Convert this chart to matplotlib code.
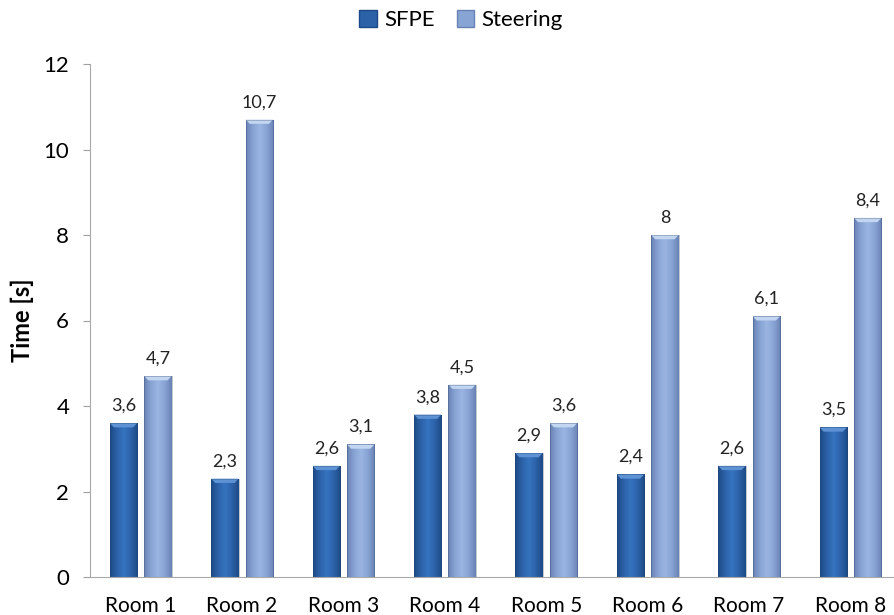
import numpy as np
import matplotlib
matplotlib.use("Agg")
import matplotlib.pyplot as plt
from matplotlib.patches import Rectangle, Polygon
from matplotlib.colors import LinearSegmentedColormap

plt.rcParams["font.family"] = ["Lato", "DejaVu Sans"]

rooms = ["Room 1", "Room 2", "Room 3", "Room 4", "Room 5", "Room 6", "Room 7", "Room 8"]
sfpe = [3.6, 2.3, 2.6, 3.8, 2.9, 2.4, 2.6, 3.5]
steering = [4.7, 10.7, 3.1, 4.5, 3.6, 8.0, 6.1, 8.4]
yticks = [0, 2, 4, 6, 8, 10, 12]

BAR_W = 0.27
GAP = 0.07

# edge -> centre -> edge shading for the bevelled look
SFPE_CMAP = LinearSegmentedColormap.from_list(
    "sfpe", ["#1d4a86", "#2c62a8", "#3674c0", "#2c62a8", "#1d4a86"])
STEER_CMAP = LinearSegmentedColormap.from_list(
    "steer", ["#6882b4", "#88a4d4", "#9ab5e2", "#88a4d4", "#6882b4"])
SFPE_TOP = "#5d92d4"
STEER_TOP = "#c2d5f1"


def fmt(v):
    s = f"{v:.1f}".replace(".", ",")
    return s[:-2] if s.endswith(",0") else s


def shaded_bar(ax, x, h, cmap, top_color):
    rect = Rectangle((x, 0), BAR_W, h, facecolor="none", edgecolor="none")
    ax.add_patch(rect)
    grad = np.linspace(0, 1, 64).reshape(1, -1)
    im = ax.imshow(grad, cmap=cmap, aspect="auto", extent=(x, x + BAR_W, 0, h),
                   origin="lower", zorder=2, interpolation="bilinear")
    im.set_clip_path(rect)
    # bevelled cap on top of the bar
    cap, inset = 0.1, 0.04
    ax.add_patch(Polygon([(x, h), (x + BAR_W, h), (x + BAR_W - inset, h - cap),
                          (x + inset, h - cap)], closed=True,
                         facecolor=top_color, edgecolor="none", zorder=3))
    ax.add_patch(Rectangle((x, 0), BAR_W, h, facecolor="none",
                           edgecolor="#2b3f5c", linewidth=0.4, alpha=0.5, zorder=4))


fig = plt.figure(figsize=(8.95, 6.15), dpi=100)
left_px, right_px, bottom_px, top_px = 90, 895, 577, 64
ax = fig.add_axes([left_px / 895, 1 - bottom_px / 615,
                   (right_px - left_px) / 895, (bottom_px - top_px) / 615])

x = np.arange(len(rooms))
for i in x:
    xs = i - GAP / 2 - BAR_W
    xt = i + GAP / 2
    shaded_bar(ax, xs, sfpe[i], SFPE_CMAP, SFPE_TOP)
    shaded_bar(ax, xt, steering[i], STEER_CMAP, STEER_TOP)
    ax.text(xs + BAR_W / 2, sfpe[i] + 0.22, fmt(sfpe[i]), ha="center", va="bottom",
            fontsize=13, color="#222222")
    ax.text(xt + BAR_W / 2, steering[i] + 0.22, fmt(steering[i]), ha="center",
            va="bottom", fontsize=13, color="#222222")

ax.set_xlim(-0.5, -0.5 + (right_px - left_px) / 101.4)
ax.set_ylim(0, 12)
ax.set_yticks(yticks)
ax.set_yticklabels([str(t) for t in yticks], fontsize=16)
ax.set_xticks(x)
ax.set_xticklabels(rooms, fontsize=15)
ax.tick_params(axis="x", length=0, pad=14)
ax.tick_params(axis="y", length=5, color="#a0a0a0", pad=10)
ax.set_ylabel("Time [s]", fontsize=17, fontweight="bold")
ax.yaxis.set_label_coords(-(left_px - 34) / (right_px - left_px), 0.5)

for side in ("top", "right"):
    ax.spines[side].set_visible(False)
ax.spines["left"].set_color("#a8a8a8")
ax.spines["bottom"].set_color("#a8a8a8")

handles = [Rectangle((0, 0), 1, 1, facecolor="#2c62a8", edgecolor="#1d4a86"),
           Rectangle((0, 0), 1, 1, facecolor="#88a4d4", edgecolor="#6882b4")]
fig.legend(handles, ["SFPE", "Steering"], loc="center", bbox_to_anchor=(0.515, 1 - 20 / 615),
           ncol=2, frameon=False, fontsize=16, handlelength=0.8, handleheight=0.8,
           handletextpad=0.3, columnspacing=1.0)

fig.savefig("out.png", dpi=100)
